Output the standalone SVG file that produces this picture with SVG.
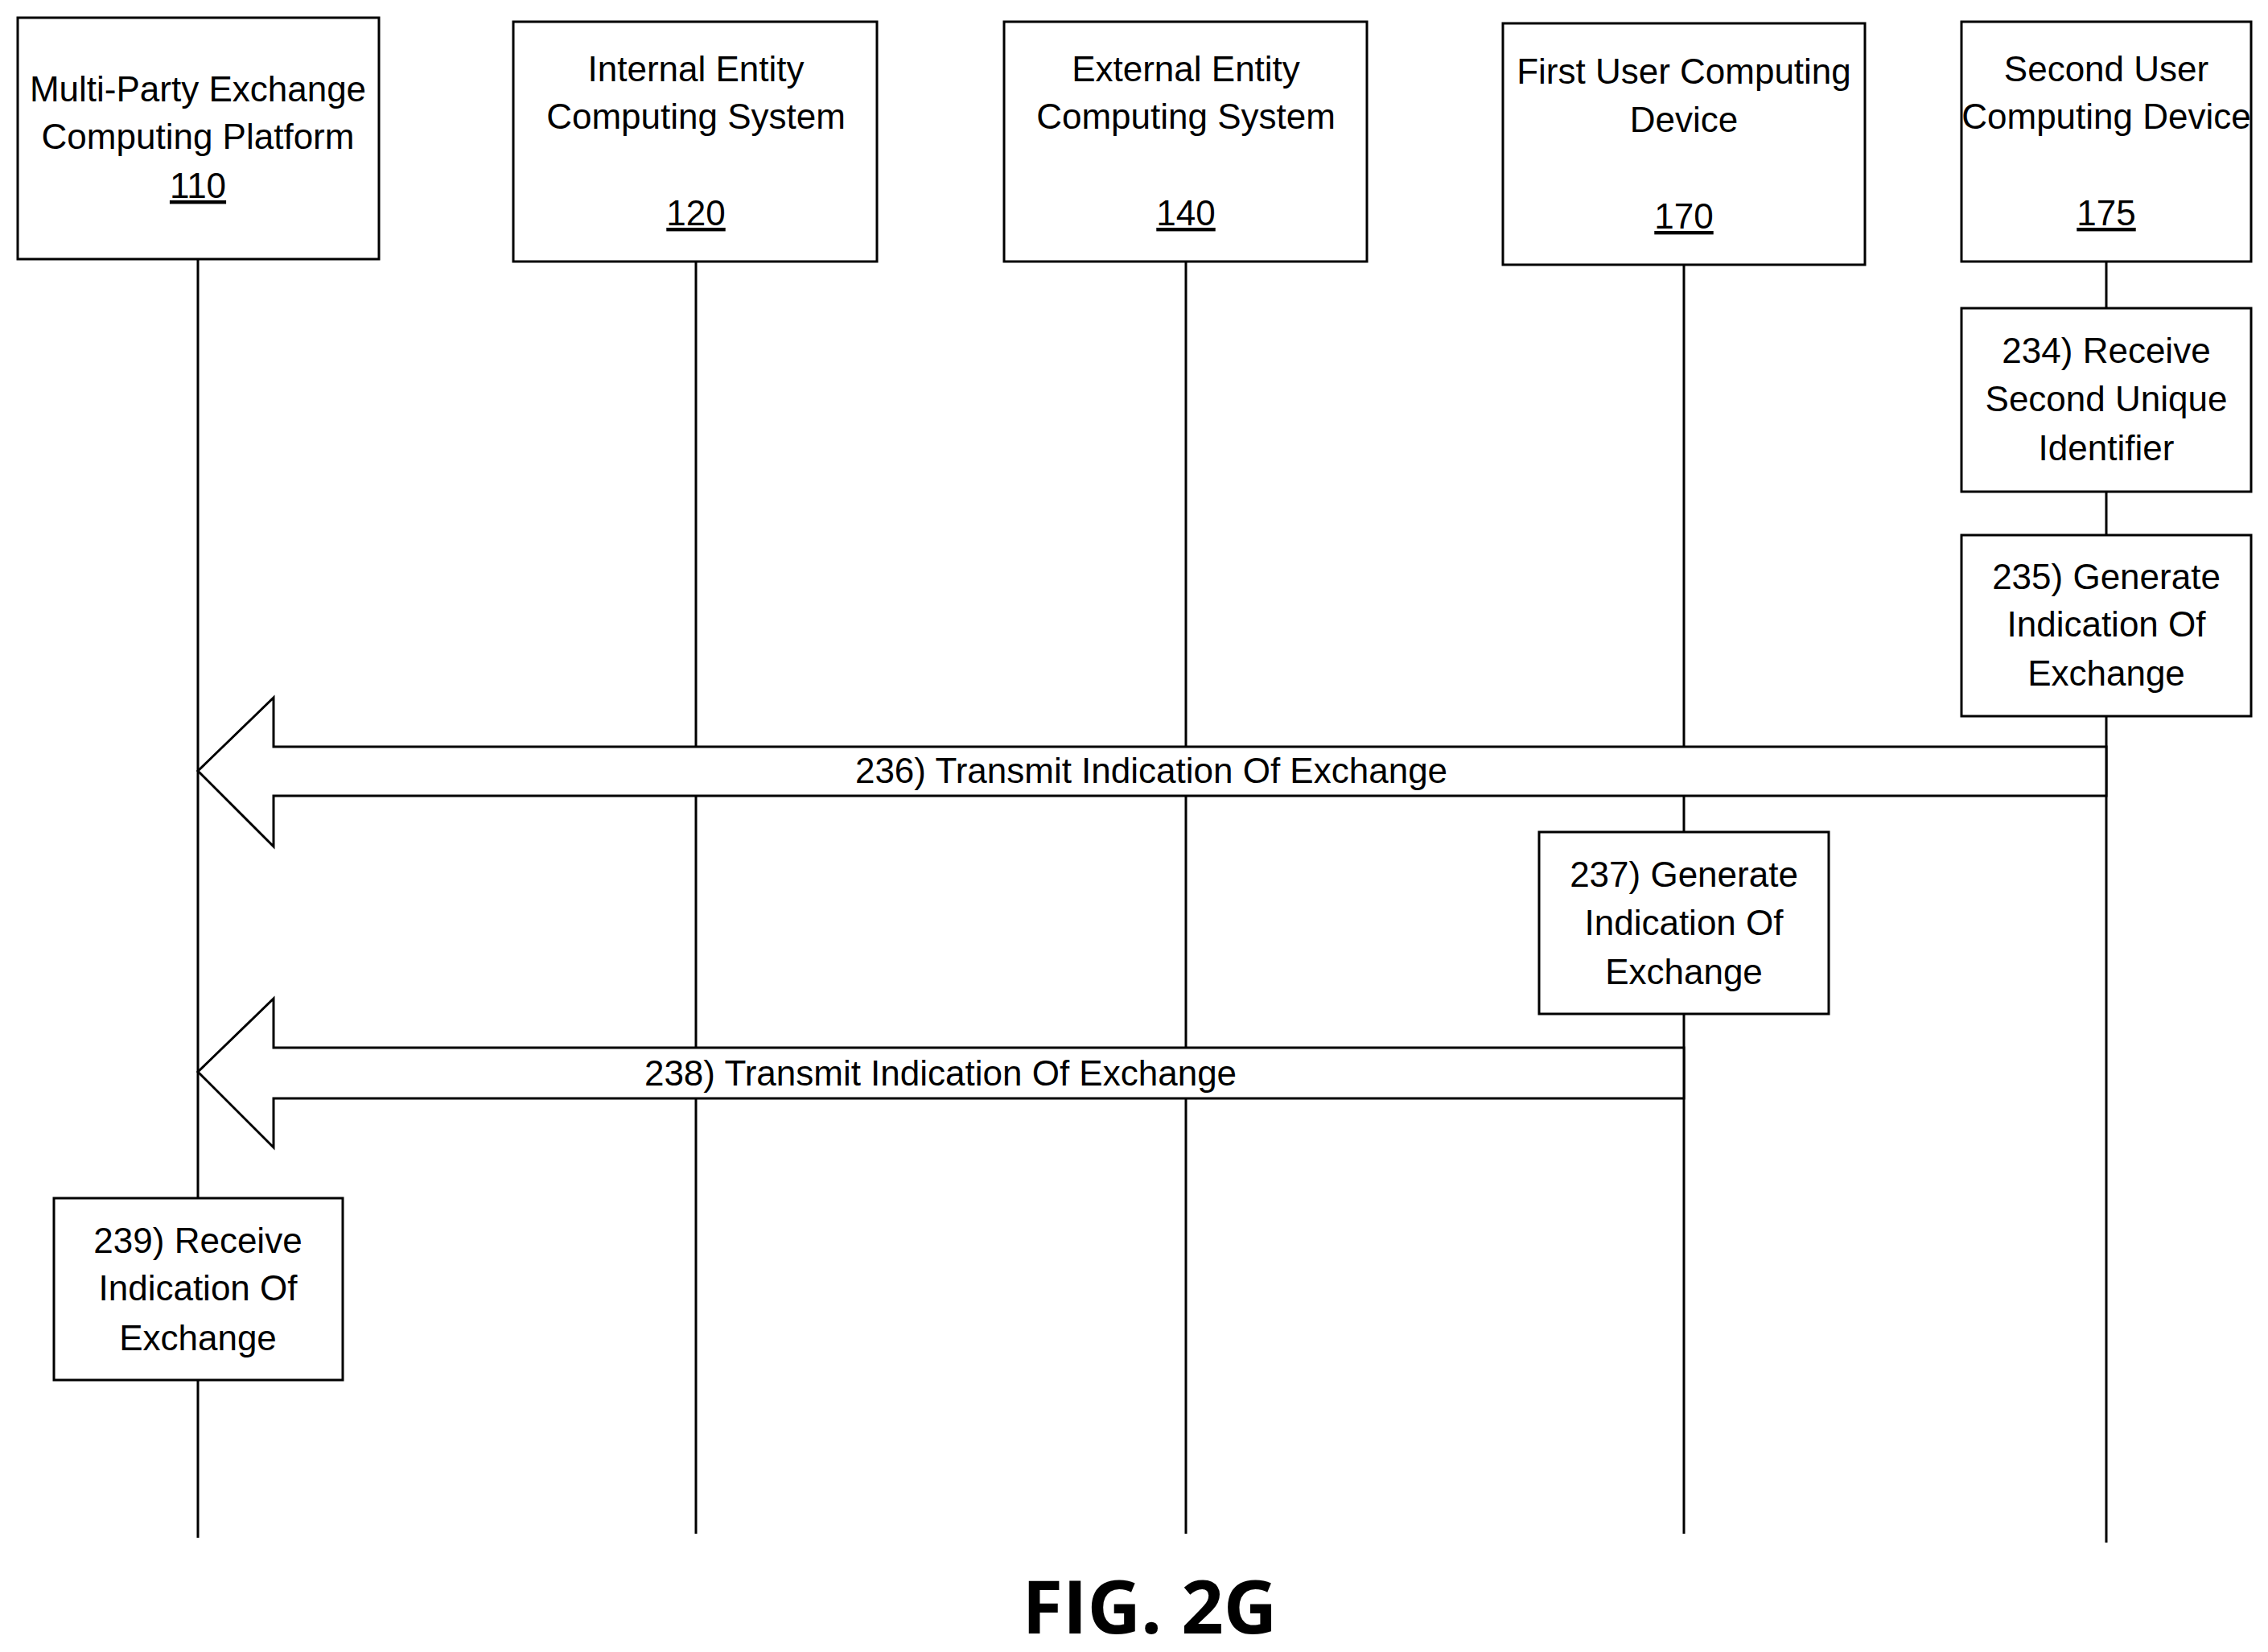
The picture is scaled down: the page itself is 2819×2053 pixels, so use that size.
<svg xmlns="http://www.w3.org/2000/svg" width="2819" height="2053" viewBox="0 0 2819 2053">
<style>
rect{fill:#fff;stroke:#000;stroke-width:3}
line{stroke:#000;stroke-width:3}
polygon{fill:#fff;stroke:#000;stroke-width:3}
text{font-family:"Liberation Sans Narrow","Liberation Sans",Arial,sans-serif;font-size:44px;text-anchor:middle;fill:#000}
.u{text-decoration:underline}
</style>
<rect x="0" y="0" width="2819" height="2053" style="stroke:none"/>
<g id="lifelines">
<line x1="246" y1="322" x2="246" y2="1911"/>
<line x1="865" y1="325" x2="865" y2="1906"/>
<line x1="1474" y1="325" x2="1474" y2="1906"/>
<line x1="2093" y1="329" x2="2093" y2="1906"/>
<line x1="2618" y1="325" x2="2618" y2="1917"/>
</g>
<g id="n110"><rect x="22" y="22" width="449" height="300"/><text x="246" y="126">Multi-Party Exchange</text><text x="246" y="185">Computing Platform</text><text x="246" y="246" class="u">110</text></g>
<g id="n120"><rect x="638" y="27" width="452" height="298"/><text x="865" y="101">Internal Entity</text><text x="865" y="160">Computing System</text><text x="865" y="280" class="u">120</text></g>
<g id="n140"><rect x="1248" y="27" width="451" height="298"/><text x="1474" y="101">External Entity</text><text x="1474" y="160">Computing System</text><text x="1474" y="280" class="u">140</text></g>
<g id="n170"><rect x="1868" y="29" width="450" height="300"/><text x="2093" y="104">First User Computing</text><text x="2093" y="164">Device</text><text x="2093" y="284" class="u">170</text></g>
<g id="n175"><rect x="2438" y="27" width="360" height="298"/><text x="2618" y="101">Second User</text><text x="2618" y="160">Computing Device</text><text x="2618" y="280" class="u">175</text></g>
<g id="n234"><rect x="2438" y="383" width="360" height="228"/><text x="2618" y="451">234) Receive</text><text x="2618" y="511">Second Unique</text><text x="2618" y="572">Identifier</text></g>
<g id="n235"><rect x="2438" y="665" width="360" height="225"/><text x="2618" y="732">235) Generate</text><text x="2618" y="791">Indication Of</text><text x="2618" y="852">Exchange</text></g>
<g id="n237"><rect x="1913" y="1034" width="360" height="226"/><text x="2093" y="1102">237) Generate</text><text x="2093" y="1162">Indication Of</text><text x="2093" y="1223">Exchange</text></g>
<g id="n239"><rect x="67" y="1489" width="359" height="226"/><text x="246" y="1557">239) Receive</text><text x="246" y="1616">Indication Of</text><text x="246" y="1678">Exchange</text></g>
<g id="connectors">
<polygon points="2618,928 340,928 340,867 246,958 340,1052 340,989 2618,989"/>
<text x="1431" y="973">236) Transmit Indication Of Exchange</text>
<polygon points="2093,1302 340,1302 340,1241 246,1332 340,1426 340,1365 2093,1365"/>
<text x="1169" y="1349">238) Transmit Indication Of Exchange</text>
</g>
<text x="1429" y="2030" style="font-family:'Open Sans','Noto Sans',sans-serif;font-size:92px;font-weight:bold">FIG. 2G</text>
</svg>
